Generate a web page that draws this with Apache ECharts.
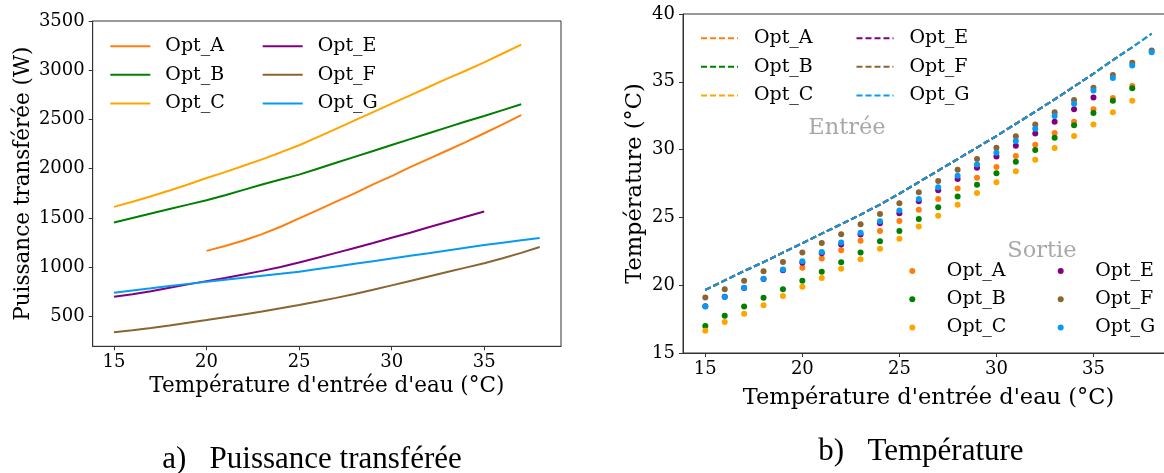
<!DOCTYPE html>
<html><head><meta charset="utf-8">
<script src="https://cdn.jsdelivr.net/npm/echarts@6/dist/echarts.min.js"></script>
<style>html,body{margin:0;padding:0;background:#fff}#c{width:1164px;height:473px}</style>
</head><body><div id="c"></div>
<script>
// ---------- data ----------
const optNames  = ['Opt_A', 'Opt_B', 'Opt_C', 'Opt_E', 'Opt_F', 'Opt_G'];
const optColors = ['#ff7f0e', '#008000', '#ffa500', '#800080', '#8b6430', '#069af3'];
const startTemp = [20, 15, 15, 15, 15, 15];   // first inlet temperature of each option (°C)

// a) Puissance transférée (W), one value per °C from startTemp
const powerA = [1165,1215,1270,1335,1410,1495,1580,1665,1750,1840,1925,2015,2100,2185,2270,2360,2450,2545];
const powerB = [1454,1500,1545,1590,1635,1680,1730,1785,1840,1890,1940,2000,2060,2120,2180,2240,2300,2360,2420,2480,2535,2595,2655];
const powerC = [1612,1665,1720,1778,1840,1905,1965,2030,2095,2165,2238,2320,2405,2490,2575,2660,2745,2830,2915,2995,3080,3170,3260];
const powerE = [700,725,755,790,825,858,890,925,962,1002,1047,1095,1145,1195,1245,1298,1350,1405,1458,1512,1565];
const powerF = [338,360,383,408,435,462,490,520,550,582,615,650,688,727,770,815,860,905,950,995,1040,1090,1145,1205];
const powerG = [740,763,785,808,830,851,872,892,912,932,953,980,1007,1034,1061,1088,1115,1142,1170,1197,1224,1248,1272,1295];

// b) Température : entrée (shared curve, from 15 °C) and sortie per option
const entreeTemp = [19.65,20.35,21.05,21.7,22.4,23.1,23.8,24.5,25.2,25.95,26.75,27.6,28.45,29.3,30.15,31.0,31.9,32.8,33.7,34.65,35.6,36.6,37.55,38.55];
const sortieA = [21.29,21.96,22.57,23.28,24.0,24.73,25.57,26.36,27.14,27.93,28.72,29.53,30.36,31.22,32.06,32.97,33.8,34.69];
const sortieB = [17.0,17.75,18.42,19.08,19.7,20.33,21.0,21.69,22.42,23.24,24.0,24.88,25.74,26.55,27.41,28.25,29.11,29.97,30.88,31.79,32.7,33.61,34.52];
const sortieC = [16.65,17.29,17.9,18.52,19.2,19.89,20.53,21.22,21.91,22.69,23.43,24.32,25.13,25.94,26.8,27.59,28.4,29.26,30.12,31.0,31.86,32.75,33.61];
const sortieE = [18.45,19.15,19.8,20.45,21.1,21.66,22.35,23.01,23.73,24.56,25.3,26.19,27.0,27.83,28.67,29.5,30.29,31.18,32.06,32.97,33.85];
const sortieF = [19.1,19.7,20.33,21.02,21.71,22.42,23.11,23.75,24.49,25.25,26.04,26.85,27.68,28.52,29.31,30.14,30.98,31.86,32.75,33.66,34.57,35.5,36.41,37.3];
const sortieG = [18.42,19.13,19.82,20.48,21.15,21.76,22.45,23.14,23.87,24.71,25.5,26.36,27.22,28.08,28.91,29.77,30.63,31.54,32.48,33.39,34.35,35.28,36.21,37.17];

// tick labels
const xTicks      = [15, 20, 25, 30, 35];
const powerTicks  = [500, 1000, 1500, 2000, 2500, 3000, 3500];
const tempTicks   = [15, 20, 25, 30, 35, 40];

const xTitle      = "Température d'entrée d'eau (°C)";
const powerTitle  = 'Puissance transférée (W)';
const tempTitle   = 'Température (°C)';
const captionA    = 'a)\u2002 Puissance transférée';
const captionB    = 'b)\u2002 Température';

// ---------- build ----------
const powers  = [powerA, powerB, powerC, powerE, powerF, powerG];
const sorties = [sortieA, sortieB, sortieC, sortieE, sortieF, sortieG];
const pairs = (start, arr) => arr.map((v, i) => [start + i, v]);
const SERIF = "'DejaVu Serif', serif";
const AXC = '#333';

const series = [];
optNames.forEach((n, k) => {
  series.push({
    name: n, type: 'line', xAxisIndex: 0, yAxisIndex: 0,
    data: pairs(startTemp[k], powers[k]),
    symbol: 'none', showSymbol: false, color: optColors[k],
    lineStyle: { width: 2, color: optColors[k] }
  });
});
optNames.forEach((n, k) => {
  const s0 = startTemp[k] - 15;
  series.push({
    name: n + ' (Entrée)', type: 'line', xAxisIndex: 1, yAxisIndex: 1,
    data: pairs(startTemp[k], entreeTemp.slice(s0, s0 + sorties[k].length)),
    symbol: 'none', showSymbol: false, color: optColors[k],
    lineStyle: { width: 2, color: optColors[k], type: [6, 3] }
  });
});
optNames.forEach((n, k) => {
  series.push({
    name: n + ' (Sortie)', type: 'scatter', xAxisIndex: 1, yAxisIndex: 1,
    data: pairs(startTemp[k], sorties[k]),
    symbol: 'circle', symbolSize: 6, color: optColors[k],
    itemStyle: { color: optColors[k], opacity: 1 }
  });
});

function xAxisOf(grid, fs, gap) {
  return {
    type: 'value', gridIndex: grid, min: 13.85, max: 39.15,
    axisLine: { show: true, lineStyle: { color: AXC, width: 1 } },
    axisTick: { show: true, length: 4, lineStyle: { color: AXC }, customValues: xTicks },
    axisLabel: { customValues: xTicks, fontFamily: SERIF, fontSize: 18, color: '#000', margin: 7, formatter: v => String(v) },
    splitLine: { show: false },
    name: xTitle, nameLocation: 'middle', nameGap: gap, nameMoveOverlap: false,
    nameTextStyle: { fontFamily: SERIF, fontSize: fs, color: '#000' }
  };
}
function yAxisOf(grid, min, max, ticks, title, fs, gap) {
  return {
    type: 'value', gridIndex: grid, min: min, max: max,
    axisLine: { show: true, lineStyle: { color: AXC, width: 1 } },
    axisTick: { show: true, length: 4, lineStyle: { color: AXC }, customValues: ticks },
    axisLabel: { customValues: ticks, fontFamily: SERIF, fontSize: 18, color: '#000', margin: 8, formatter: v => String(v) },
    splitLine: { show: false },
    name: title, nameLocation: 'middle', nameGap: gap, nameMoveOverlap: false,
    nameTextStyle: { fontFamily: SERIF, fontSize: fs, color: '#000' }
  };
}
function legendOf(names, left, top, iw, ih, gap, pad, hideSymbol) {
  const lg = {
    data: names, orient: 'vertical', left: left, top: top, padding: 0,
    itemWidth: iw, itemHeight: ih, itemGap: gap, selectedMode: false,
    formatter: nm => nm.split(' ')[0],
    textStyle: { fontFamily: SERIF, fontSize: 19, color: '#000', lineHeight: 20, padding: [0, 0, 0, pad] }
  };
  if (hideSymbol) lg.itemStyle = { opacity: 0 };
  return lg;
}

const option = {
  animation: false,
  backgroundColor: '#fff',
  grid: [
    { left: 92.7, top: 21, width: 468.3, height: 325.3, show: true, borderColor: AXC, borderWidth: 1, outerBoundsMode: 'none', containLabel: false },
    { left: 683, top: 14, width: 491, height: 339, show: true, borderColor: AXC, borderWidth: 1, outerBoundsMode: 'none', containLabel: false }
  ],
  xAxis: [ xAxisOf(0, 21.5, 29), xAxisOf(1, 22.5, 34) ],
  yAxis: [
    yAxisOf(0, 196, 3500, powerTicks, powerTitle, 21.5, 58.5),
    yAxisOf(1, 15, 40, tempTicks, tempTitle, 22.5, 36.5)
  ],
  legend: [
    legendOf(optNames.slice(0, 3), 109.3, 36.2, 40, 14, 8.6, 10, true),
    legendOf(optNames.slice(3), 261.7, 36.2, 40, 14, 8.6, 10, true),
    legendOf(optNames.slice(0, 3).map(n => n + ' (Entrée)'), 700, 28.2, 37, 14, 8.6, 11, true),
    legendOf(optNames.slice(3).map(n => n + ' (Entrée)'), 855.5, 28.2, 37, 14, 8.6, 11, true),
    legendOf(optNames.slice(0, 3).map(n => n + ' (Sortie)'), 909.3, 260.9, 37, 6, 8.3, 11, false),
    legendOf(optNames.slice(3).map(n => n + ' (Sortie)'), 1057.7, 260.9, 37, 6, 8.3, 11, false)
  ],
  graphic: [
    { type: 'text', x: 847, y: 128, style: { text: 'Entrée', font: "22.5px 'DejaVu Serif'", fill: '#a8a8a8', align: 'center', verticalAlign: 'middle' } },
    { type: 'text', x: 1042, y: 251, style: { text: 'Sortie', font: "22.5px 'DejaVu Serif'", fill: '#a8a8a8', align: 'center', verticalAlign: 'middle' } },
    { type: 'text', x: 312, y: 460, style: { text: captionA, font: "31px 'Liberation Serif'", fill: '#000', align: 'center', verticalAlign: 'middle' } },
    { type: 'text', x: 921, y: 452, style: { text: captionB, font: "31px 'Liberation Serif'", fill: '#000', align: 'center', verticalAlign: 'middle' } }
  ],
  series: series
};
const chart = echarts.init(document.getElementById('c'), null, { renderer: 'canvas' });
chart.setOption(option);
</script>
</body></html>
